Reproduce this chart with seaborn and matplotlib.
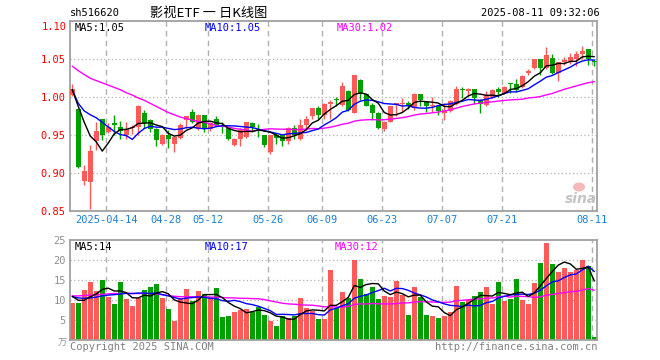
import numpy as np
import pandas as pd
import matplotlib
matplotlib.use("Agg")
import matplotlib.pyplot as plt
import matplotlib.patches as mpatches
import seaborn as sns

# ---------------- data ----------------
opens = [1.003, 0.985, 0.890, 0.889, 0.942, 0.972, 0.954, 0.966, 0.961, 0.951,
         0.959, 0.961, 0.979, 0.970, 0.958, 0.939, 0.950, 0.939, 0.947, 0.970,
         0.981, 0.958, 0.977, 0.958, 0.972, 0.964, 0.959, 0.937, 0.945, 0.948,
         0.966, 0.957, 0.950, 0.928, 0.950, 0.950, 0.942, 0.959, 0.945, 0.964,
         0.975, 0.986, 0.977, 0.991, 0.998, 0.990, 1.008, 0.980, 1.023, 1.004,
         0.990, 0.980, 0.958, 0.968, 0.990, 0.991, 0.993, 0.986, 1.004, 0.994,
         0.988, 0.988, 0.980, 0.982, 0.991, 1.011, 1.008, 1.011, 0.997, 0.990,
         1.000, 1.011, 1.006, 1.018, 1.017, 1.013, 1.032, 1.039, 1.050, 1.038,
         1.052, 1.032, 1.046, 1.048, 1.051, 1.057, 1.063, 1.048]
highs = [1.018, 0.986, 0.911, 0.937, 0.968, 0.972, 0.966, 0.977, 0.969, 0.968,
         0.964, 0.990, 0.983, 0.972, 0.959, 0.952, 0.957, 0.949, 0.966, 0.976,
         0.985, 0.978, 0.977, 0.967, 0.976, 0.968, 0.961, 0.946, 0.959, 0.968,
         0.967, 0.965, 0.950, 0.950, 0.953, 0.951, 0.961, 0.964, 0.972, 0.975,
         0.986, 0.989, 0.992, 0.997, 1.001, 1.020, 1.010, 1.029, 1.024, 1.005,
         0.992, 0.981, 0.969, 0.989, 0.993, 0.999, 0.995, 1.006, 1.004, 0.995,
         1.001, 0.990, 0.993, 0.997, 1.015, 1.013, 1.012, 1.011, 0.998, 1.008,
         1.011, 1.013, 1.015, 1.019, 1.024, 1.029, 1.037, 1.051, 1.051, 1.066,
         1.057, 1.047, 1.053, 1.058, 1.061, 1.067, 1.063, 1.050]
lows = [1.002, 0.907, 0.884, 0.853, 0.931, 0.944, 0.953, 0.951, 0.945, 0.945,
        0.952, 0.950, 0.959, 0.955, 0.936, 0.937, 0.933, 0.928, 0.945, 0.959,
        0.966, 0.957, 0.954, 0.956, 0.962, 0.953, 0.944, 0.936, 0.936, 0.947,
        0.955, 0.948, 0.935, 0.926, 0.939, 0.936, 0.938, 0.945, 0.944, 0.957,
        0.971, 0.971, 0.972, 0.972, 0.989, 0.989, 0.982, 0.979, 0.997, 0.988,
        0.970, 0.958, 0.956, 0.967, 0.975, 0.981, 0.984, 0.983, 0.989, 0.981,
        0.981, 0.977, 0.970, 0.981, 0.990, 0.999, 1.002, 0.991, 0.980, 0.989,
        0.999, 1.001, 1.004, 1.006, 1.007, 1.012, 1.029, 1.037, 1.029, 1.037,
        1.031, 1.021, 1.042, 1.044, 1.041, 1.050, 1.042, 1.041]
closes = [1.011, 0.908, 0.903, 0.929, 0.956, 0.950, 0.961, 0.964, 0.956, 0.958,
          0.961, 0.989, 0.966, 0.958, 0.944, 0.950, 0.945, 0.948, 0.964, 0.975,
          0.967, 0.977, 0.958, 0.966, 0.964, 0.962, 0.945, 0.945, 0.957, 0.967,
          0.961, 0.956, 0.937, 0.950, 0.946, 0.942, 0.959, 0.950, 0.964, 0.972,
          0.986, 0.977, 0.991, 0.994, 0.997, 1.015, 0.983, 1.029, 1.005, 0.989,
          0.979, 0.959, 0.968, 0.988, 0.992, 0.993, 0.988, 1.005, 0.997, 0.988,
          0.990, 0.982, 0.983, 0.995, 1.011, 1.009, 1.011, 0.999, 0.991, 1.003,
          1.010, 1.007, 1.014, 1.017, 1.010, 1.028, 1.034, 1.050, 1.039, 1.056,
          1.032, 1.046, 1.049, 1.053, 1.057, 1.061, 1.050, 1.046]
volumes = [9.25, 9.25, 12.5, 14.6, 12.3, 15.0, 10.75, 9.0, 14.6, 10.25,
           8.6, 10.5, 12.5, 13.3, 14.0, 10.6, 7.8, 4.8, 10.6, 12.8,
           9.75, 12.3, 11.7, 10.6, 13.0, 5.8, 6.2, 7.1, 7.5, 7.8,
           7.2, 8.3, 6.3, 4.8, 3.6, 6.1, 5.7, 6.2, 10.6, 8.1,
           7.4, 5.3, 5.3, 17.6, 8.1, 12.0, 10.7, 20.1, 15.3, 11.6,
           13.3, 10.3, 11.1, 10.8, 14.8, 11.3, 6.3, 13.3, 10.8, 6.3,
           6.0, 5.5, 6.0, 7.0, 13.7, 9.5, 10.0, 11.0, 12.0, 13.3,
           9.0, 14.5, 9.8, 10.4, 15.3, 10.1, 9.1, 14.3, 19.3, 24.3,
           19.0, 17.1, 18.1, 17.0, 17.6, 20.1, 18.6, 0.8]

# moving-average values at the start of the window (they depend on days before the chart)
ma5_head = [1.010, 0.988, 0.967, 0.949]
ma10_head = [1.010, 0.992, 0.982, 0.977, 0.973, 0.967, 0.961, 0.955, 0.951]
ma30_head = [1.041, 1.035, 1.030, 1.025, 1.022, 1.019, 1.016, 1.013, 1.010, 1.006,
             1.003, 0.999, 0.996, 0.992, 0.988, 0.984, 0.980, 0.977, 0.974, 0.972,
             0.970, 0.968, 0.967, 0.965, 0.963, 0.962, 0.961, 0.959, 0.958]
vma5_head = [11.0, 10.0, 10.0, 10.9]
vma10_head = [10.9, 10.6, 10.5, 10.6, 10.8, 11.1, 11.3, 11.4, 11.6]
vma30_head = [11.1, 11.1, 11.2, 11.3, 11.4, 11.5, 11.6, 11.7, 11.7, 11.7,
              11.7, 11.7, 11.7, 11.7, 11.6, 11.4, 11.2, 11.0, 10.9, 10.9,
              10.9, 10.9, 10.9, 10.8, 10.8, 10.7, 10.6, 10.6, 10.5]

tick_idx = [6, 16, 23, 33, 42, 52, 62, 72, 87]
tick_labels = ["2025-04-14", "04-28", "05-12", "05-26", "06-09",
               "06-23", "07-07", "07-21", "08-11"]
price_ticks = [0.85, 0.90, 0.95, 1.00, 1.05]
price_top = 1.10
vol_ticks = [5, 10, 15, 20, 25]

# ---------------- helpers ----------------
def moving(vals, n, head):
    s = pd.Series(vals).rolling(n).mean().to_numpy()
    s[:len(head)] = head
    return s

df = pd.DataFrame({"i": np.arange(len(closes)), "open": opens, "high": highs,
                   "low": lows, "close": closes, "vol": volumes})
df["ma5"] = moving(closes, 5, ma5_head)
df["ma10"] = moving(closes, 10, ma10_head)
df["ma30"] = moving(closes, 30, ma30_head)
df["vma5"] = moving(volumes, 5, vma5_head)
df["vma10"] = moving(volumes, 10, vma10_head)
df["vma30"] = moving(volumes, 30, vma30_head)
df["dir"] = np.where(df["close"] >= df["open"], "up", "down")

RED = "#ff5a5a"
GREEN = "#00a000"
GRID = "#b0b0b0"
FRAME = "#a0a0a0"
MONO = "DejaVu Sans Mono"
CJK = ["Noto Sans CJK SC", "DejaVu Sans"]

sns.set_style("white")
plt.rcParams["font.family"] = [MONO, "Noto Sans CJK SC"]

W, H = 660, 360
fig = plt.figure(figsize=(6.6, 3.6), dpi=100)
ax = fig.add_axes([70 / W, 1 - 211.3 / H, 527 / W, 190 / H])
axv = fig.add_axes([70 / W, 1 - 340.3 / H, 527 / W, 100 / H])

XMIN, XMAX = -0.38, 87.45
colors = [RED if d == "up" else GREEN for d in df["dir"]]

# ---------------- price panel ----------------
for p in price_ticks[1:]:
    ax.axhline(p, color=GRID, lw=0.9, ls=(0, (1, 2)), zorder=0)
for t in tick_idx:
    ax.axvline(t - 0.38, color=GRID, lw=1.0, ls=(0, (4, 3)), zorder=0)

bw = 0.82
body_lo = np.minimum(df["open"], df["close"])
body_h = np.maximum((df["open"] - df["close"]).abs(), 0.0012)
ax.vlines(df["i"], df["low"], df["high"], colors=colors, lw=1.0, zorder=2)
ax.bar(df["i"], body_h, bottom=body_lo, width=bw, color=colors, lw=0, zorder=3)

sns.lineplot(data=df, x="i", y="ma30", ax=ax, color="#ff00ff", lw=1.0, zorder=4)
sns.lineplot(data=df, x="i", y="ma10", ax=ax, color="#0000ff", lw=1.0, zorder=5)
sns.lineplot(data=df, x="i", y="ma5", ax=ax, color="black", lw=1.0, zorder=6)

ax.set_xlim(XMIN, XMAX)
ax.set_ylim(0.85, price_top)
ax.set_yticks(price_ticks)
ax.set_yticklabels([f"{v:.2f}" for v in price_ticks])
ax.set_xticks([t - 0.38 for t in tick_idx])
ax.set_xticklabels(tick_labels)
ax.tick_params(axis="y", length=0, pad=3, labelsize=7.5, labelcolor="red")
ax.tick_params(axis="x", length=0, pad=3, labelsize=7.5, labelcolor="#1a7fd4")
ax.set_xlabel("")
ax.set_ylabel("")
for s in ax.spines.values():
    s.set_color(FRAME)
    s.set_linewidth(1.3)
fig.text(67 / W, 1 - 27 / H, f"{price_top:.2f}", fontsize=7.5, color="red",
         ha="right", va="center")

last = df.iloc[-1]
fig.text(75 / W, 1 - 28 / H, f"MA5:{last['ma5']:.2f}", fontsize=7.5, color="black",
         va="center", ha="left")
fig.text(205 / W, 1 - 28 / H, f"MA10:{last['ma10']:.2f}", fontsize=7.5, color="#0000ff",
         va="center", ha="left")
fig.text(337 / W, 1 - 28 / H, f"MA30:{last['ma30']:.2f}", fontsize=7.5, color="#ff00ff",
         va="center", ha="left")

# sina watermark
fig.patches.append(mpatches.Ellipse((579 / W, 1 - 187 / H), 12 / W, 9 / H,
                   transform=fig.transFigure, facecolor="#f6b8b8", edgecolor="none"))
fig.text(581 / W, 1 - 199 / H, "sina", fontsize=10, color="#c4c4c4", style="italic",
         fontweight="bold", ha="center", va="center", family="DejaVu Sans")

# ---------------- volume panel ----------------
for v in vol_ticks[:-1]:
    axv.axhline(v, color=GRID, lw=0.9, ls=(0, (1, 2)), zorder=0)
for t in tick_idx:
    axv.axvline(t - 0.38, color=GRID, lw=1.0, ls=(0, (4, 3)), zorder=0)

axv.bar(df["i"], df["vol"], width=0.83, color=colors, lw=0, zorder=2)
sns.lineplot(data=df, x="i", y="vma30", ax=axv, color="#ff00ff", lw=1.0, zorder=4)
sns.lineplot(data=df, x="i", y="vma10", ax=axv, color="#0000ff", lw=1.0, zorder=5)
sns.lineplot(data=df, x="i", y="vma5", ax=axv, color="black", lw=1.0, zorder=6)

axv.set_xlim(XMIN, XMAX)
axv.set_ylim(0, 25)
axv.set_yticks(vol_ticks)
axv.set_yticklabels([str(v) for v in vol_ticks])
axv.set_xticks([])
axv.tick_params(axis="y", length=0, pad=3, labelsize=7.5, labelcolor="#909090")
axv.set_xlabel("")
axv.set_ylabel("")
for s in axv.spines.values():
    s.set_color(FRAME)
    s.set_linewidth(1.3)

fig.text(75 / W, 1 - 247 / H, f"MA5:{int(last['vma5'])}", fontsize=7.5, color="black",
         va="center", ha="left")
fig.text(205 / W, 1 - 247 / H, f"MA10:{int(last['vma10'])}", fontsize=7.5, color="#0000ff",
         va="center", ha="left")
fig.text(335 / W, 1 - 247 / H, f"MA30:{int(last['vma30'])}", fontsize=7.5, color="#ff00ff",
         va="center", ha="left")
fig.text(67 / W, 1 - 343 / H, "万", fontsize=6.5, color="#909090", ha="right", va="center",
         family=CJK)

# ---------------- header / footer ----------------
fig.text(70 / W, 1 - 13 / H, "sh516620", fontsize=7.5, color="black", ha="left", va="center")
fig.text(150 / W, 1 - 13 / H, "影视ETF 一 日K线图", fontsize=9.5, color="black",
         ha="left", va="center", family=CJK)
fig.text(600 / W, 1 - 13 / H, "2025-08-11 09:32:06", fontsize=7.5, color="black",
         ha="right", va="center")
fig.text(70 / W, 1 - 347 / H, "Copyright 2025 SINA.COM", fontsize=7.5, color="#808080",
         ha="left", va="center")
fig.text(597 / W, 1 - 347 / H, "http://finance.sina.com.cn", fontsize=7.5, color="#808080",
         ha="right", va="center")

fig.savefig("out.png", dpi=100, facecolor="white")
